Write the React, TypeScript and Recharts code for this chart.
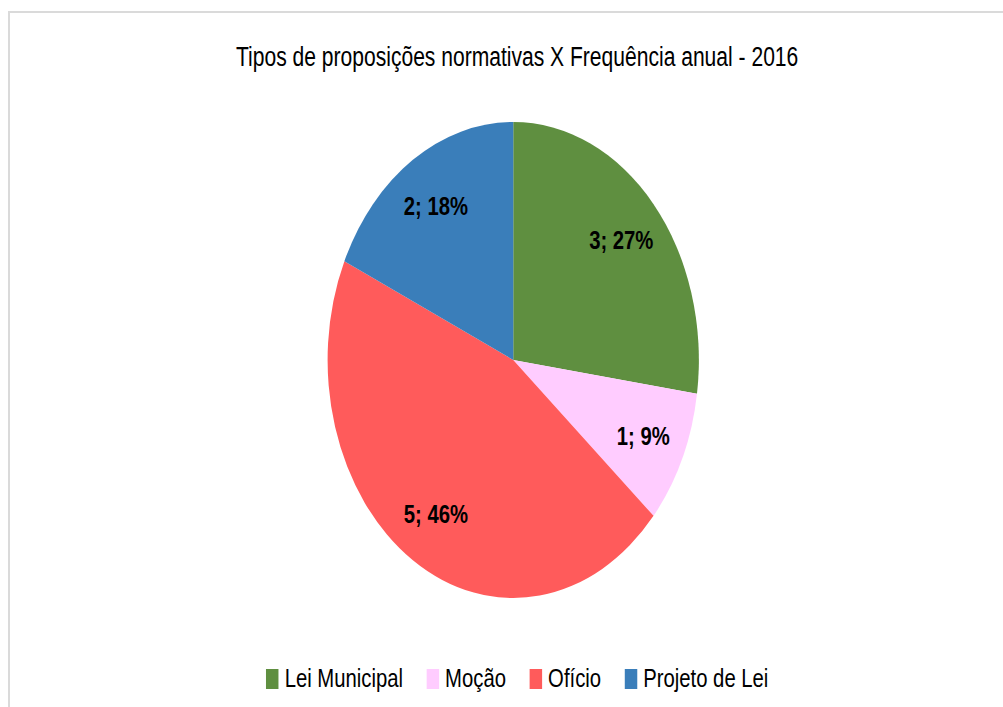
import { PieChart, Pie, Cell, Legend } from "recharts";

const categories = ["Lei Municipal", "Moção", "Ofício", "Projeto de Lei"];
const counts = [3, 1, 5, 2];
const percentLabels = ["27%", "9%", "46%", "18%"];
const colors = ["#5F8F40", "#FFCCFF", "#FF5B5B", "#3A7EBA"];

const data = categories.map((name, i) => ({ name, value: counts[i], pct: percentLabels[i] }));

const SX = 0.78;
const W = Math.round(1003 / SX);
const H = 707;
const RAD = Math.PI / 180;

const renderLabel = (props: any) => {
    const { cx, cy, midAngle, outerRadius, index } = props;
    const r = outerRadius * 0.77;
    const x = cx + r * Math.cos(-midAngle * RAD);
    const y = cy + r * Math.sin(-midAngle * RAD);
    return (
        <text x={x} y={y} textAnchor="middle" dominantBaseline="central"
            fontFamily="Liberation Sans, Arial, sans-serif" fontWeight="bold" fontSize={26} fill="#000">
            {`${counts[index]}; ${percentLabels[index]}`}
        </text>
    );
};

const renderLegend = () => (
    <div style={{ display: "flex", justifyContent: "center", fontFamily: "Liberation Sans, Arial, sans-serif", fontSize: 26, color: "#000" }}>
        {categories.map((c, i) => (
            <div key={c} style={{ display: "flex", alignItems: "center", marginRight: i < categories.length - 1 ? 30 : 0 }}>
                <span style={{ width: 16, height: 20, background: colors[i], marginRight: 8, display: "inline-block" }} />
                <span>{c}</span>
            </div>
        ))}
    </div>
);

export default function App() {
    return (
        <div style={{ position: "absolute", left: 0, top: 0, width: 1003, height: 707, overflow: "hidden", background: "#fff" }}>
            <div style={{ position: "absolute", left: 8, top: 11, width: 1200, height: 900, borderTop: "2px solid #dadada", borderLeft: "2px solid #dadada" }} />
            <div style={{ position: "absolute", left: 0, top: 0, width: W, height: H, transform: `scaleX(${SX})`, transformOrigin: "0 0" }}>
                <div style={{ position: "absolute", top: 42, left: 0, width: W, textAlign: "center", fontFamily: "Liberation Sans, Arial, sans-serif", fontSize: 27, color: "#000", paddingLeft: 40, boxSizing: "border-box" }}>
                    Tipos de proposições normativas X Frequência anual - 2016
                </div>
                <PieChart width={W} height={H}>
                    <Pie data={data} dataKey="value" nameKey="name" cx={653} cy={355} outerRadius={238}
                        startAngle={90} endAngle={-270} stroke="none" label={renderLabel} labelLine={false}
                        isAnimationActive={false}>
                        {data.map((d, i) => <Cell key={d.name} fill={colors[i]} />)}
                    </Pie>
                    <Legend content={renderLegend} wrapperStyle={{ position: "absolute", top: 663, left: 20, width: W }} />
                </PieChart>
            </div>
        </div>
    );
}
